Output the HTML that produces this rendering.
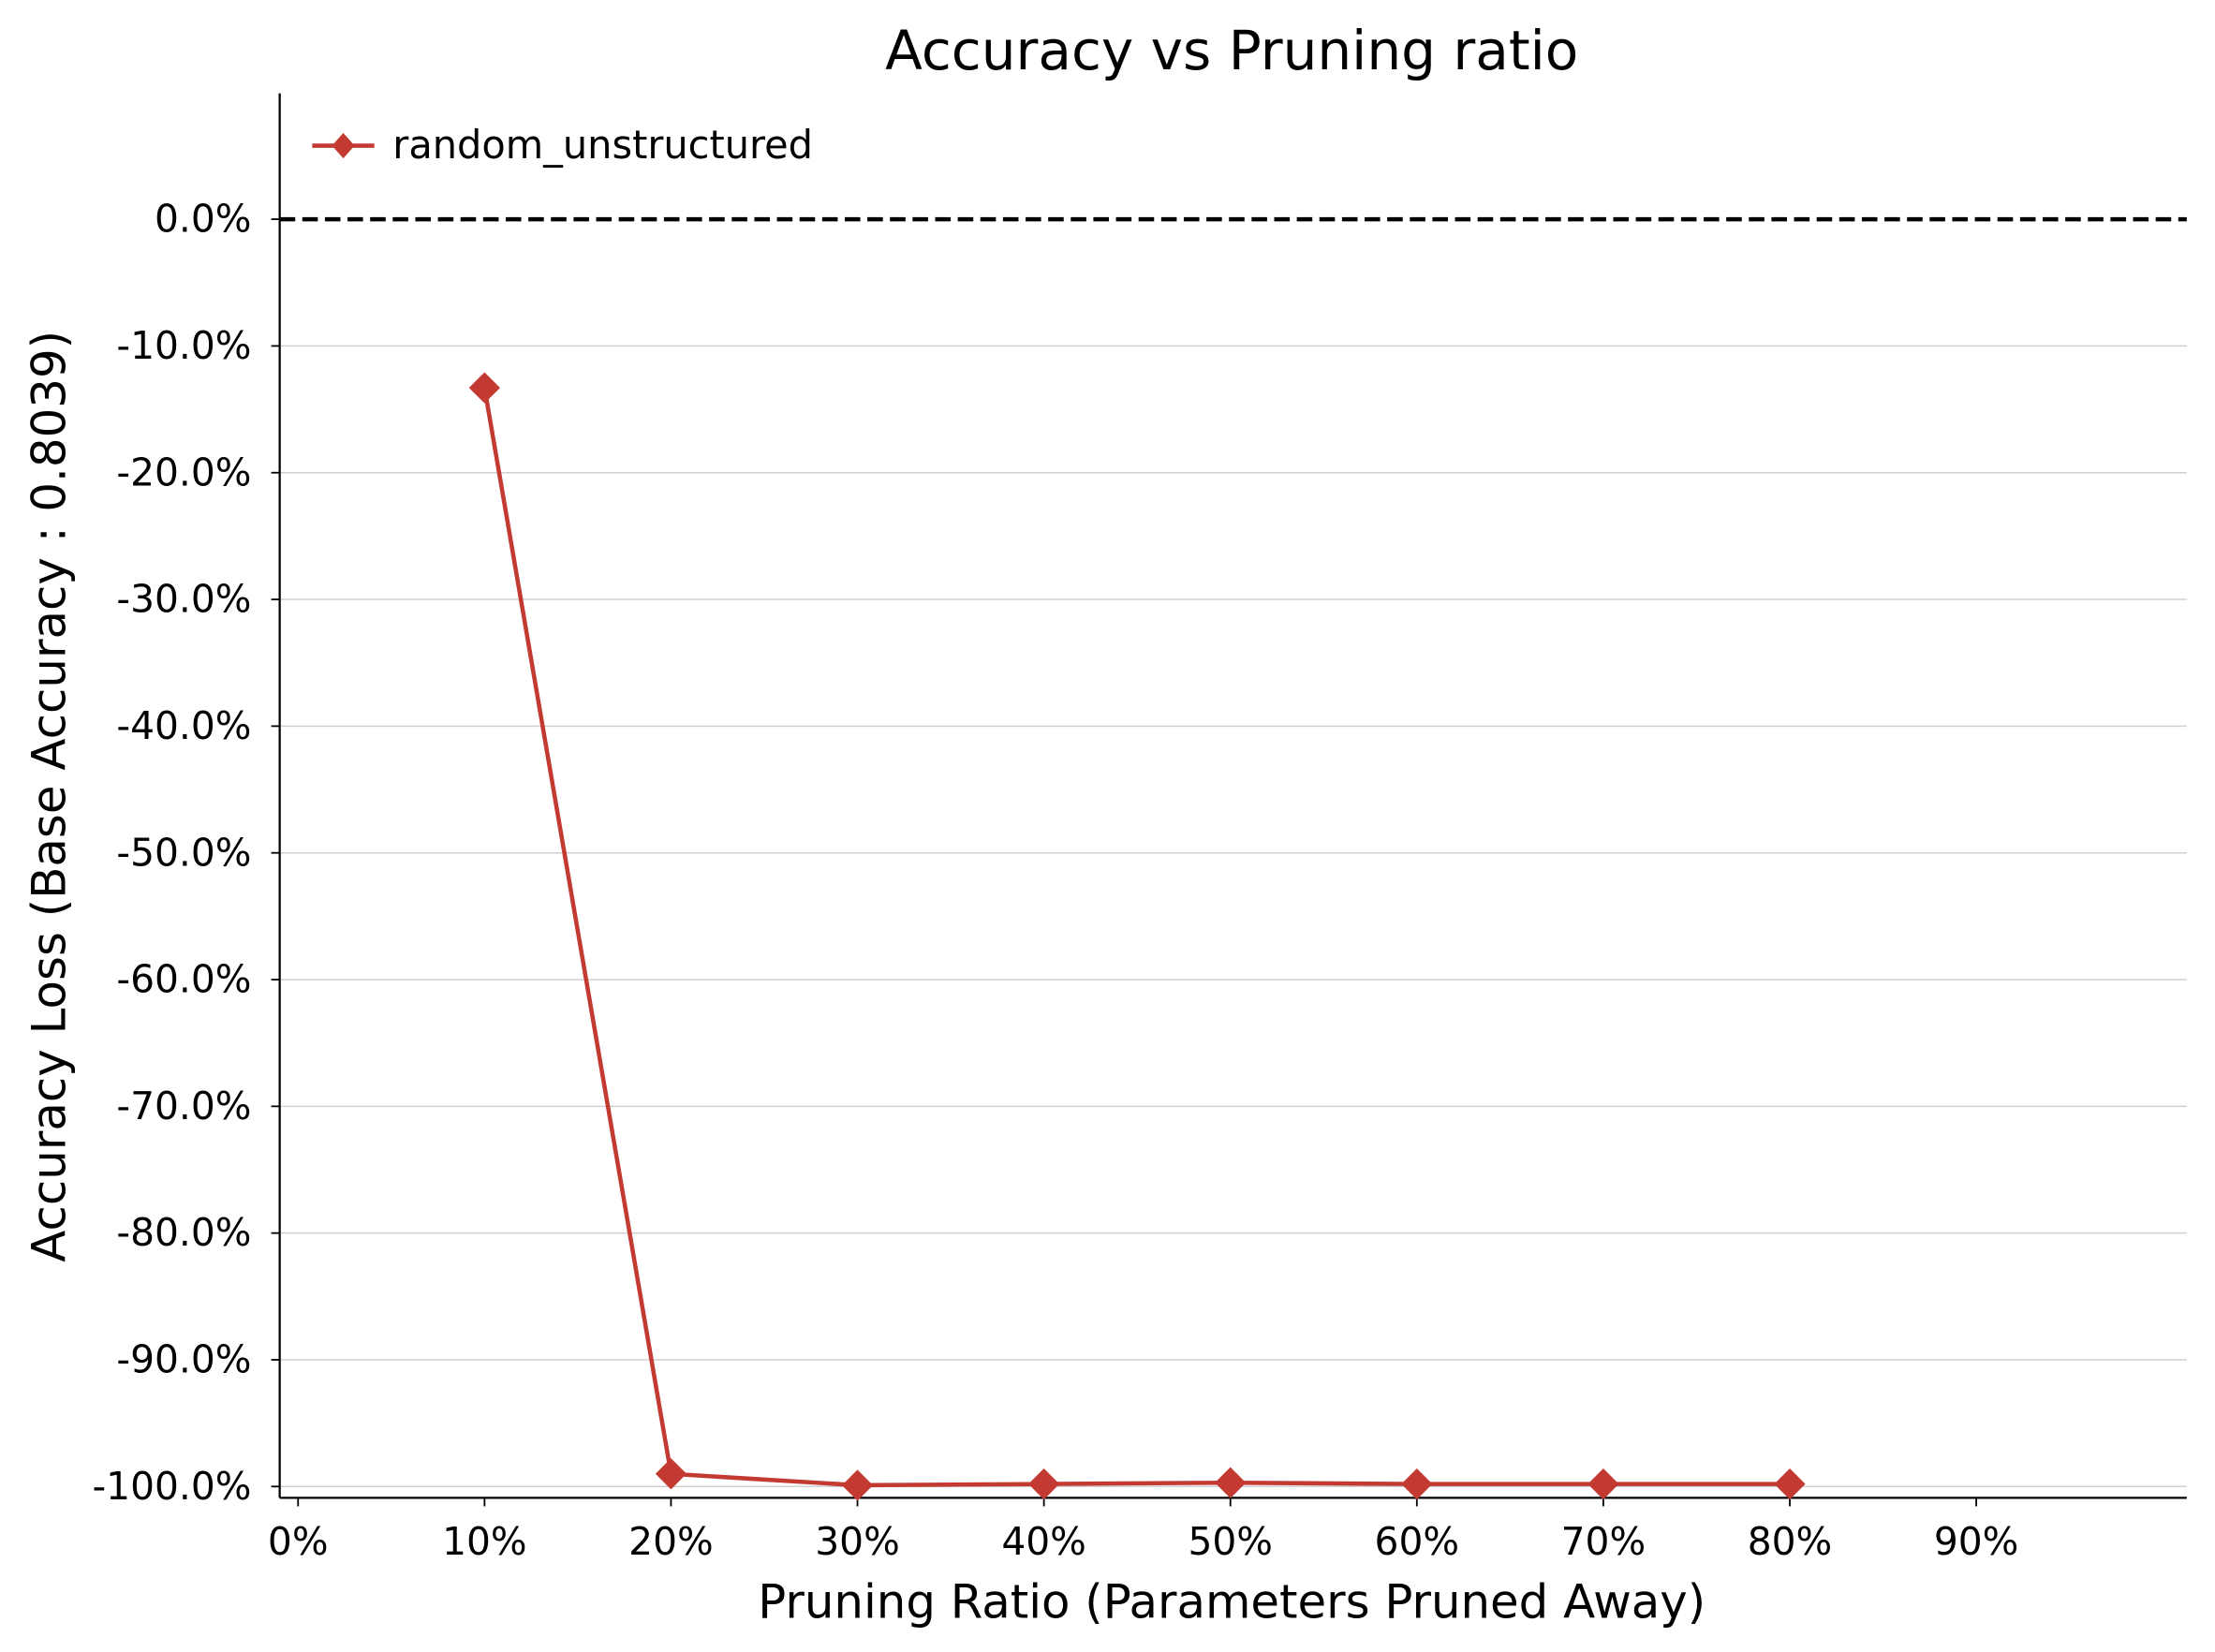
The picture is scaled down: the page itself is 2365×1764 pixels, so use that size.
<!DOCTYPE html>
<html><head><meta charset="utf-8"><style>
html,body{margin:0;padding:0;background:#fff}
svg{display:block}
text{font-family:"DejaVu Sans","Liberation Sans",sans-serif;fill:#000}
</style></head><body>
<svg id="chart" width="2365" height="1764" viewBox="0 0 1568 1168" preserveAspectRatio="none" xmlns="http://www.w3.org/2000/svg">
<text x="872" y="49" font-size="38.5" text-anchor="middle">Accuracy vs Pruning ratio</text>
<g id="grid"></g>
<g id="axes"></g>
<g id="series"></g>
<text x="872" y="1144" font-size="33" text-anchor="middle">Pruning Ratio (Parameters Pruned Away)</text>
<text transform="translate(46,563) rotate(-90)" font-size="33" text-anchor="middle">Accuracy Loss (Base Accuracy : 0.8039)</text>
<g>
<line x1="221" y1="103" x2="265" y2="103" stroke="#c33a32" stroke-width="3"/>
<path d="M243 94 L251 103 L243 112 L235 103 Z" fill="#c33a32"/>
<text x="278" y="112" font-size="27.5">random_unstructured</text>
</g>
</svg>
<script>
const xValues = [10, 20, 30, 40, 50, 60, 70, 80];
const yValues = [-13.3, -99.0, -99.9, -99.8, -99.7, -99.8, -99.8, -99.8];
const xTicks = [0, 10, 20, 30, 40, 50, 60, 70, 80, 90];
const yTicks = [0, -10, -20, -30, -40, -50, -60, -70, -80, -90, -100];

const NS = "http://www.w3.org/2000/svg";
const L = 198, R = 1548, T = 66, B = 1059;
const xs = v => 211 + v * 13.2;
const ys = v => 155 - v * 8.96;
function mk(tag, attrs, parent) {
  const e = document.createElementNS(NS, tag);
  for (const k in attrs) e.setAttribute(k, attrs[k]);
  parent.appendChild(e);
  return e;
}
const grid = document.getElementById('grid');
const axes = document.getElementById('axes');
const series = document.getElementById('series');

yTicks.forEach(v => {
  const y = ys(v);
  if (v !== 0) {
    const g = mk('line', {x1: L, x2: R, y1: y, y2: y, stroke: '#d0d0d0', 'stroke-width': 1}, grid);
    
    
  }
  mk('line', {x1: L - 6, x2: L, y1: y, y2: y, stroke: '#000', 'stroke-width': 1.2}, axes);
  const t = mk('text', {x: L - 20, y: y + 9, 'font-size': 27, 'text-anchor': 'end'}, axes);
  t.textContent = v.toFixed(1) + '%';
  
  
});
xTicks.forEach(v => {
  const x = xs(v);
  mk('line', {x1: x, x2: x, y1: B, y2: B + 6, stroke: '#000', 'stroke-width': 1.2}, axes);
  const t = mk('text', {x: x, y: B + 40, 'font-size': 27, 'text-anchor': 'middle'}, axes);
  t.textContent = v + '%';
  
  
});
const ya = mk('line', {x1: L, x2: L, y1: T, y2: B, stroke: '#000', 'stroke-width': 1.5}, axes);


const xa = mk('line', {x1: L, x2: R, y1: B, y2: B, stroke: '#000', 'stroke-width': 1.5}, axes);


const base = mk('line', {x1: L, x2: R, y1: ys(0), y2: ys(0), stroke: '#000', 'stroke-width': 3, 'stroke-dasharray': '11,5'}, axes);



const pts = xValues.map((x, i) => xs(x) + ',' + ys(yValues[i])).join(' ');
const line = mk('polyline', {points: pts, fill: 'none', stroke: '#c33a32', 'stroke-width': 3}, series);


xValues.forEach((x, i) => {
  const cx = xs(x), cy = ys(yValues[i]);
  const m = mk('path', {d: `M${cx} ${cy-11} L${cx+11} ${cy} L${cx} ${cy+11} L${cx-11} ${cy} Z`, fill: '#c33a32'}, series);
  
  
});
</script>
</body></html>
